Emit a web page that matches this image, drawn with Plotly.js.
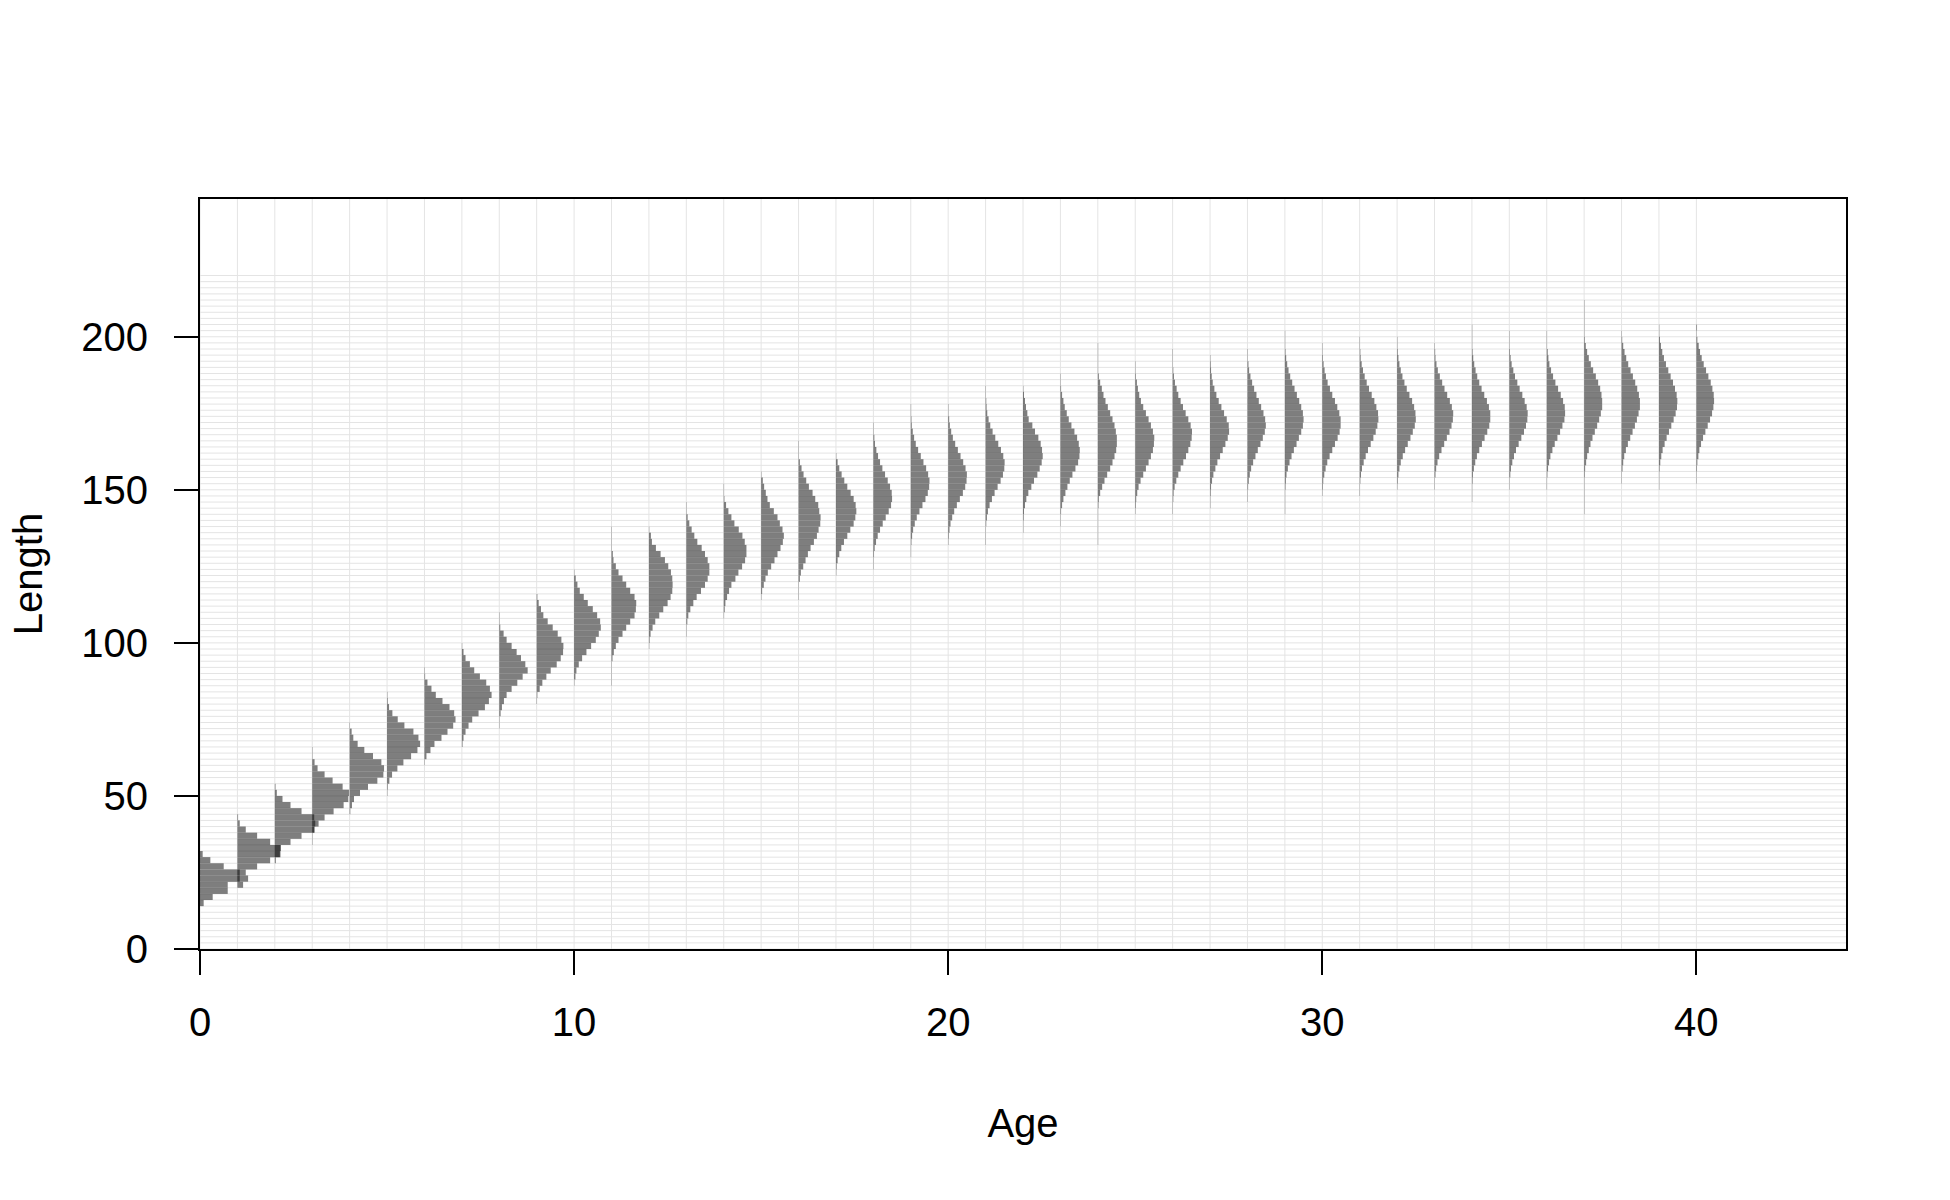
<!DOCTYPE html>
<html>
<head>
<meta charset="utf-8">
<script src="https://cdn.plot.ly/plotly-3.0.1.min.js"></script>
<style>
html,body{margin:0;padding:0;background:#ffffff;}
#chart{width:1950px;height:1200px;}
</style>
</head>
<body>
<div id="chart"></div>
<script>
// ---------------- DATA ----------------
// Ages (x) and the length distribution (2 cm bins) observed at each age.
const ages = [0,1,2,3,4,5,6,7,8,9,10,11,12,13,14,15,16,17,18,19,20,21,22,23,24,25,26,27,28,29,30,31,32,33,34,35,36,37,38,39,40];
const binWidth = 2;
// lower edge of the first length bin for each age
const binStart = [14,20,28,34,44,50,60,66,72,80,86,86,98,102,108,114,114,122,124,128,132,132,136,138,132,142,142,144,146,142,148,148,150,150,146,150,150,142,152,150,152];

// relative frequency in each consecutive length bin
const freq00 = [11,38,83,83,119,119,71,31,8];
const freq01 = [17,32,25,59,98,129,129,98,59,25,7,2];
const freq02 = [3,15,18,47,80,118,121,118,80,47,23,6,2];
const freq03 = [1,1,7,19,37,64,94,108,110,91,61,37,16,7,1,1];
const freq04 = [2,7,13,31,55,83,101,103,95,70,44,24,11,6,1];
const freq05 = [1,2,7,15,31,49,72,91,99,94,79,52,32,16,6,2,1];
const freq06 = [1,6,18,30,51,69,86,93,89,75,54,34,21,9,2,1];
const freq07 = [2,5,11,20,31,50,69,81,89,84,73,54,37,24,11,5,1];
const freq08 = [1,1,4,8,14,22,37,54,70,85,78,65,52,37,22,13,3,1,1];
const freq09 = [1,2,9,17,29,42,60,72,79,80,74,63,48,33,20,13,6,2];
const freq10 = [1,4,7,14,24,37,51,65,74,80,78,69,56,41,29,17,10,5,1];
const freq11 = [1,1,1,1,3,7,13,21,33,44,56,69,73,74,69,56,44,33,21,13,6,4,1,1,1,1];
const freq12 = [1,2,5,11,19,31,43,56,65,70,71,70,66,58,48,35,21,9,6,1];
const freq13 = [1,1,3,6,12,21,31,44,56,64,69,69,64,56,46,33,24,16,9,4,1,1];
const freq14 = [1,3,5,10,16,23,35,44,55,64,68,68,63,56,45,32,23,14,7,2,1,1];
const freq15 = [1,3,8,13,20,30,40,49,58,65,68,64,56,49,38,26,19,14,9,5,1];
const freq16 = [1,1,1,4,7,14,21,28,36,46,55,60,65,66,62,59,50,42,31,23,15,9,4,1,1,1];
const freq17 = [1,2,5,10,16,24,34,43,53,58,61,59,53,44,34,25,17,10,5,1];
const freq18 = [1,1,2,4,8,13,20,28,37,46,53,56,55,50,43,35,27,20,14,9,5,3,1,1];
const freq19 = [1,1,2,4,7,12,18,26,35,44,51,55,56,52,46,38,30,22,15,10,6,3,2,1,1];
const freq20 = [1,2,4,7,12,18,26,35,44,51,55,56,52,45,37,29,21,14,9,5,3,1,1];
const freq21 = [1,1,1,2,4,7,12,19,27,36,45,52,56,57,53,46,38,29,21,14,9,5,3,2,1,1];
const freq22 = [1,1,2,3,6,10,16,25,33,43,50,56,59,57,53,46,36,28,17,13,9,6,3,1];
const freq23 = [1,1,2,5,9,15,21,28,36,45,53,57,58,55,50,42,33,25,19,13,9,5,2,1,1];
const freq24 = [1,1,1,1,1,1,2,3,7,13,20,28,37,44,50,55,57,57,54,50,44,37,30,23,17,12,7,3,1,1,1,1,1];
const freq25 = [1,2,3,6,10,16,24,32,40,47,53,56,57,53,47,40,32,24,17,12,8,5,2,1,1];
const freq26 = [1,1,2,3,6,11,17,24,32,40,47,53,57,58,54,47,39,31,24,17,12,7,4,2,1,1,1];
const freq27 = [1,1,2,3,6,10,16,22,30,38,46,53,57,56,50,42,34,26,19,13,8,5,3,2,1];
const freq28 = [1,1,2,4,7,11,17,24,31,39,46,52,55,53,48,41,34,27,20,14,9,5,3,1,1];
const freq29 = [1,1,1,1,2,3,5,9,14,20,27,35,42,49,54,56,54,49,43,36,29,22,16,11,7,4,2,1,1,1];
const freq30 = [1,2,3,6,10,15,22,30,38,46,52,55,55,51,45,38,30,23,16,11,7,4,2,1,1];
const freq31 = [1,1,2,4,7,12,18,25,33,41,48,53,56,55,50,44,36,28,21,15,10,6,3,2,1,1];
const freq32 = [1,2,4,7,11,17,24,32,40,47,53,56,55,51,45,37,29,22,16,11,7,4,2,1,1];
const freq33 = [1,1,3,5,9,14,21,29,37,45,51,55,56,52,46,38,30,23,16,10,6,3,2,1];
const freq34 = [1,1,1,2,3,6,10,15,22,30,38,46,52,55,55,51,45,37,29,22,16,11,7,4,2,1,1,1,1];
const freq35 = [1,1,3,5,9,14,20,28,36,44,50,54,55,52,46,39,31,24,17,12,7,4,2,1,1,1];
const freq36 = [1,1,2,4,7,11,17,24,32,40,47,53,55,54,49,42,34,26,19,13,8,5,3,1,1,1];
const freq37 = [1,1,1,1,1,1,2,3,6,9,14,19,25,32,39,45,50,54,54,52,48,42,35,27,20,14,9,5,2,1,1,1,1,1,1];
const freq38 = [1,1,3,5,8,13,19,26,33,40,46,51,55,55,52,47,41,34,27,20,14,9,5,2,1];
const freq39 = [1,1,1,2,4,7,11,17,23,30,37,44,50,54,55,53,48,42,35,28,21,15,10,6,3,1,1];
const freq40 = [1,1,2,3,6,9,14,20,27,34,41,47,51,53,52,48,43,36,29,22,16,11,7,3,1,2];

const freqByAge = [freq00,freq01,freq02,freq03,freq04,freq05,freq06,freq07,freq08,freq09,
  freq10,freq11,freq12,freq13,freq14,freq15,freq16,freq17,freq18,freq19,
  freq20,freq21,freq22,freq23,freq24,freq25,freq26,freq27,freq28,freq29,
  freq30,freq31,freq32,freq33,freq34,freq35,freq36,freq37,freq38,freq39,freq40];

// grid positions
const gridAges = ages;
const gridLengths = [];
for (let v = 0; v <= 220; v += 2) gridLengths.push(v);

const xTicks = [0,10,20,30,40];
const yTicks = [0,50,100,150,200];

// ---------------- STYLE ----------------
const FREQ_TO_YEARS = 1/112;   // horizontal scale of the histograms
const FONT = 'Liberation Sans, Arial, Helvetica, sans-serif';
const GRID = '#e4e4e4';

const traces = ages.map((age, i) => {
  const f = freqByAge[i];
  return {
    type: 'bar',
    orientation: 'h',
    y: f.map((_, k) => binStart[i] + binWidth * k + binWidth / 2),
    x: f.map(v => v * FREQ_TO_YEARS),
    base: f.map(() => age),
    width: binWidth,
    marker: {color: '#000000', line: {width: 0}},
    opacity: 0.5,
    hoverinfo: 'skip',
    showlegend: false
  };
});

const shapes = [];
gridAges.forEach(a => shapes.push({type:'line', xref:'x', yref:'y', x0:a, x1:a, y0:0, y1:245, layer:'below', line:{color:GRID, width:1}}));
gridLengths.forEach(l => shapes.push({type:'line', xref:'x', yref:'y', x0:0, x1:44, y0:l, y1:l, layer:'below', line:{color:GRID, width:1}}));

const axisCommon = {
  ticks: 'outside', ticklen: 24, tickwidth: 2, tickcolor: '#000',
  showline: true, mirror: true, linewidth: 2, linecolor: '#000',
  showgrid: false, zeroline: false, automargin: false,
  tickfont: {family: FONT, size: 40, color: '#000'}
};

const layout = {
  width: 1950, height: 1200,
  margin: {l: 200, r: 104, t: 199, b: 251, pad: 0},
  paper_bgcolor: '#ffffff', plot_bgcolor: '#ffffff',
  barmode: 'overlay',
  showlegend: false,
  font: {family: FONT, size: 40, color: '#000'},
  xaxis: Object.assign({}, axisCommon, {
    range: [0, 44], tickmode: 'array', tickvals: xTicks, ticktext: xTicks.map(String),
    ticklabelstandoff: 13,
    title: {text: 'Age', font: {family: FONT, size: 40, color: '#000'}, standoff: 66}
  }),
  yaxis: Object.assign({}, axisCommon, {
    range: [0, 245], tickmode: 'array', tickvals: yTicks, ticktext: yTicks.map(String),
    tickangle: 0, ticklabelstandoff: 18,
    title: {text: 'Length', font: {family: FONT, size: 40, color: '#000'}, standoff: 26}
  }),
  shapes: shapes
};

Plotly.newPlot('chart', traces, layout, {displayModeBar: false, staticPlot: true});
</script>
</body>
</html>
